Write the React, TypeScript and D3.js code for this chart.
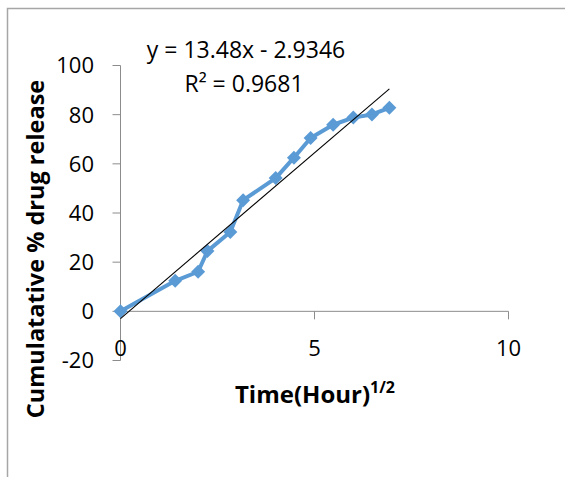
import React from "react";
import * as d3 from "d3";

const timeSqrt = [0, 1.41, 2, 2.24, 2.83, 3.16, 4, 4.47, 4.9, 5.48, 6, 6.48, 6.93];
const release = [0, 12.4, 16.1, 24.5, 32.3, 45.2, 54.2, 62.5, 70.5, 75.9, 78.8, 80.1, 82.8];
const xTicks = [0, 5, 10];
const yTicks = [-20, 0, 20, 40, 60, 80, 100];
const slope = 13.48;
const intercept = -2.9346;
const equationText = "y = 13.48x - 2.9346";
const r2Text = "R² = 0.9681";

const W = 565;
const H = 477;
const FONT = "'Open Sans', 'Noto Sans', sans-serif";

export default function App() {
  const x = d3.scaleLinear().domain([0, 10]).range([120.5, 508.5]);
  const y = d3.scaleLinear().domain([-20, 100]).range([360.5, 65.5]);

  const pts = timeSqrt.map((t, i) => [t, release[i]] as [number, number]);
  const line = d3
    .line<[number, number]>()
    .x((d) => x(d[0]))
    .y((d) => y(d[1]));

  const xMax = d3.max(timeSqrt) as number;
  const trend: [number, number][] = [
    [0, intercept],
    [xMax, slope * xMax + intercept],
  ];

  const diamond = d3.symbol().type(d3.symbolDiamond2).size(125)() as string;

  const axisColor = "#8c8c8c";

  return (
    <svg
      width={W}
      height={H}
      style={{ position: "absolute", left: 0, top: 0, background: "#fff" }}
      fontFamily={FONT}
    >
      <rect x={0} y={0} width={W} height={H} fill="#fff" />
      <path d={`M7.5,${H + 2} L7.5,8.5 L${W + 2},8.5`} fill="none" stroke="#a6a6a6" strokeWidth={1.5} />

      {/* y axis */}
      <line x1={x(0)} x2={x(0)} y1={y(100)} y2={y(-20)} stroke={axisColor} strokeWidth={1} />
      {yTicks.map((t) => (
        <g key={"y" + t}>
          <line x1={x(0) - 8} x2={x(0)} y1={y(t)} y2={y(t)} stroke={axisColor} strokeWidth={1} />
          <text x={94} y={y(t)} dy="0.36em" textAnchor="end" fontSize={22} fill="#000">
            {t}
          </text>
        </g>
      ))}

      {/* x axis */}
      <line x1={x(0)} x2={x(10)} y1={y(0)} y2={y(0)} stroke={axisColor} strokeWidth={1} />
      {xTicks.map((t) => (
        <g key={"x" + t}>
          <line x1={x(t)} x2={x(t)} y1={y(0)} y2={y(0) + 8} stroke={axisColor} strokeWidth={1} />
          <text x={x(t)} y={348} dy="0.36em" textAnchor="middle" fontSize={22} fill="#000">
            {t}
          </text>
        </g>
      ))}

      {/* data series */}
      <path d={line(pts) as string} fill="none" stroke="#5B9BD5" strokeWidth={4} strokeLinejoin="round" />
      {pts.map((p, i) => (
        <path key={"m" + i} d={diamond} transform={`translate(${x(p[0])},${y(p[1])})`} fill="#5B9BD5" />
      ))}

      {/* trendline */}
      <path d={line(trend) as string} fill="none" stroke="#000" strokeWidth={1.1} />

      {/* equation */}
      <text x={246} y={58} textAnchor="middle" fontSize={23} fill="#000">
        {equationText}
      </text>
      <text x={244} y={92} textAnchor="middle" fontSize={23} fill="#000">
        {r2Text}
      </text>

      {/* axis titles */}
      <text
        transform={`translate(44,249) rotate(-90)`}
        textAnchor="middle"
        fontSize={23.5}
        fontWeight="bold"
        fill="#000"
      >
        Cumulatative % drug release
      </text>
      <text x={315} y={403} textAnchor="middle" fontSize={24} fontWeight="bold" fill="#000">
        Time(Hour)<tspan fontSize={16} dy={-10}>1/2</tspan>
      </text>
    </svg>
  );
}
